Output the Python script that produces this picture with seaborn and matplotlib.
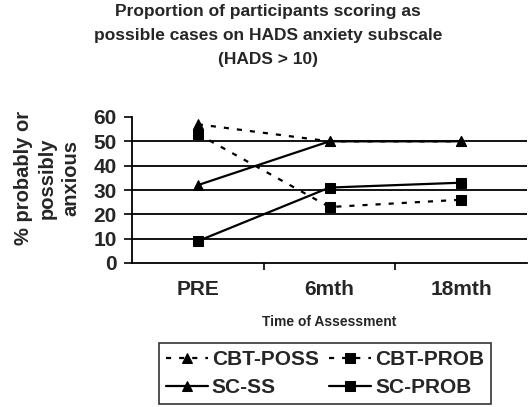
import matplotlib
matplotlib.use("Agg")
import matplotlib.pyplot as plt
import pandas as pd
import seaborn as sns

# data
times = ['PRE', '6mth', '18mth']
cbt_poss = [57, 50, 50]
cbt_prob = [53, 23, 26]
sc_ss = [32, 50, 50]
sc_prob = [9, 31, 33]

series = {
    'CBT-POSS': cbt_poss,
    'CBT-PROB': cbt_prob,
    'SC-SS': sc_ss,
    'SC-PROB': sc_prob,
}
styles = {
    'CBT-POSS': ((0, (2.3, 3.6)), '^'),
    'CBT-PROB': ((0, (2.3, 3.6)), 's'),
    'SC-SS': ('-', '^'),
    'SC-PROB': ('-', 's'),
}

sns.set_theme(style="white")
plt.rcParams['font.family'] = ['Liberation Sans', 'DejaVu Sans']
plt.rcParams['font.weight'] = 'bold'

fig = plt.figure(figsize=(5.32, 4.07), dpi=100)
ax = fig.add_axes([132 / 532, 1 - 263 / 407, 395 / 532, 146 / 407])

for name, vals in series.items():
    df = pd.DataFrame({'Time': range(len(times)), 'Value': vals})
    ls, mk = styles[name]
    sns.lineplot(data=df, x='Time', y='Value', ax=ax, color='black',
                 linestyle=ls, linewidth=1.6, marker=mk, markersize=7,
                 markeredgecolor='black', label=name)

ax.set_xlim(-0.5, 2.5)
ax.set_ylim(0, 60)
ax.set_yticks(range(0, 61, 10))
ax.set_yticklabels([str(v) for v in range(0, 61, 10)], fontsize=15, fontweight='bold')
ax.set_xticks(range(len(times)))
ax.set_xticklabels(times, fontsize=15, fontweight='bold')
ax.set_xticks([0.5, 1.5], minor=True)
ax.tick_params(axis='x', which='major', length=0, pad=12)
ax.tick_params(axis='x', which='minor', length=5, width=1.2, direction='out', color='black', bottom=True)
ax.tick_params(axis='y', which='major', length=6, width=1.2, direction='out', color='black', left=True, pad=5)

for v in range(10, 51, 10):
    ax.axhline(v, color='black', linewidth=1.3, zorder=0)

for s in ['top', 'right']:
    ax.spines[s].set_visible(False)
for s in ['left', 'bottom']:
    ax.spines[s].set_color('black')
    ax.spines[s].set_linewidth(1.3)

ax.set_xlabel('Time of Assessment', fontsize=10, fontweight='bold', va='top')
ax.xaxis.set_label_coords(0.5, -0.355)
ax.set_ylabel('% probably or\npossibly\nanxious', fontsize=14.5, fontweight='bold',
              linespacing=1.3, va='center')
ax.yaxis.set_label_coords(-0.215, 0.58)

fig.text(268 / 532, 1 - 4 / 407,
         'Proportion of participants scoring as\npossible cases on HADS anxiety subscale\n(HADS > 10)',
         ha='center', va='top', fontsize=12.5, fontweight='bold', linespacing=1.75)

handles, labels = ax.get_legend_handles_labels()
order = [labels.index(n) for n in ['CBT-POSS', 'SC-SS', 'CBT-PROB', 'SC-PROB']]
leg = ax.legend([handles[i] for i in order], [labels[i] for i in order],
                loc='upper center', bbox_to_anchor=(325 / 532, 1 - 343 / 407),
                bbox_transform=fig.transFigure, ncol=2,
                frameon=True, fancybox=False, edgecolor='black', fontsize=15,
                handlelength=2.0, columnspacing=0.5, handletextpad=0.2,
                borderpad=0.35, labelspacing=0.42, borderaxespad=0)
leg.get_frame().set_linewidth(1.2)
for t in leg.get_texts():
    t.set_fontweight('bold')

fig.savefig('out.png', dpi=100)
